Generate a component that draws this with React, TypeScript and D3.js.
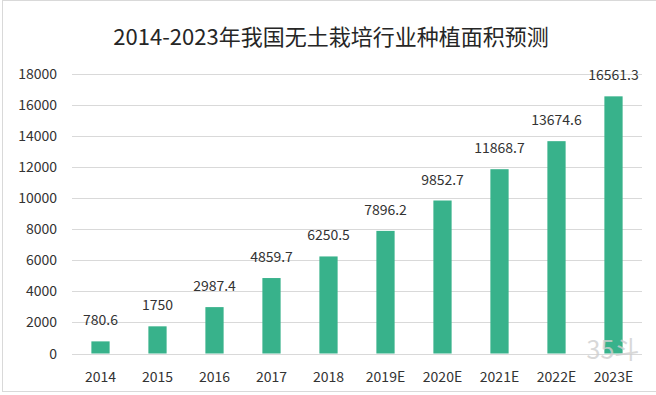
import React from "react";
import * as d3 from "d3";

const years = ["2014", "2015", "2016", "2017", "2018", "2019E", "2020E", "2021E", "2022E", "2023E"];
const areas = [780.6, 1750, 2987.4, 4859.7, 6250.5, 7896.2, 9852.7, 11868.7, 13674.6, 16561.3];
const areaLabels = ["780.6", "1750", "2987.4", "4859.7", "6250.5", "7896.2", "9852.7", "11868.7", "13674.6", "16561.3"];
const yTicks = [0, 2000, 4000, 6000, 8000, 10000, 12000, 14000, 16000, 18000];
const title = "2014-2023年我国无土栽培行业种植面积预测";

const W = 656;
const H = 395;
const font = "'Noto Sans CJK SC', 'Noto Sans', sans-serif";

const App = () => {
    const x = d3.scaleBand().domain(years).range([72, 642]).paddingInner(0.68).paddingOuter(0.34);
    const y = d3.scaleLinear().domain([0, 18000]).range([353.5, 74]);

    return (
        <svg width={W} height={H} style={{ position: "absolute", left: 0, top: 0 }} fontFamily={font}>
            <rect x={0} y={0} width={W} height={H} fill="#fff" />
            <rect x={2.5} y={0.5} width={W + 10} height={391} fill="none" stroke="#d9d9d9" />
            <text x={331} y={45} textAnchor="middle" fontSize={22} fill="#262626">
                {title}
            </text>

            {/* grid + y labels */}
            {yTicks.map((t) => (
                <g key={t}>
                    <line x1={72} x2={642} y1={Math.round(y(t)) + 0.5} y2={Math.round(y(t)) + 0.5} stroke="#d9d9d9" />
                    <text x={57} y={y(t) + 5} textAnchor="end" fontSize={14} fill="#333">
                        {t}
                    </text>
                </g>
            ))}

            {/* bars */}
            {areas.map((v, i) => (
                <rect
                    key={years[i]}
                    x={x(years[i])}
                    y={y(v)}
                    width={x.bandwidth()}
                    height={y(0) - y(v)}
                    fill="#38b28b"
                />
            ))}

            {/* watermark */}
            <text x={613} y={359} textAnchor="middle" fontSize={25} fill="#cfcfcf" opacity={0.8}>
                35斗
            </text>

            {/* value labels */}
            {areas.map((v, i) => (
                <text
                    key={"l" + years[i]}
                    x={(x(years[i]) as number) + x.bandwidth() / 2}
                    y={y(v) - 16}
                    textAnchor="middle"
                    fontSize={14}
                    fill="#333"
                >
                    {areaLabels[i]}
                </text>
            ))}

            {/* x labels */}
            {years.map((c) => (
                <text
                    key={"x" + c}
                    x={(x(c) as number) + x.bandwidth() / 2}
                    y={382}
                    textAnchor="middle"
                    fontSize={14}
                    fill="#333"
                >
                    {c}
                </text>
            ))}
        </svg>
    );
};

export default App;
